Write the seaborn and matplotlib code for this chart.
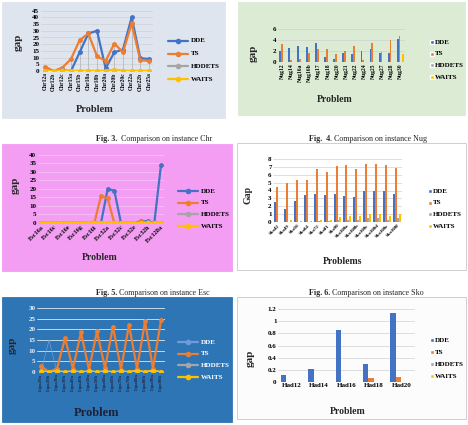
import matplotlib
matplotlib.use("Agg")
import matplotlib.pyplot as plt
import pandas as pd
import seaborn as sns
from matplotlib.lines import Line2D
from matplotlib.patches import Rectangle

sns.set_style("white")
plt.rcParams["font.family"] = ["Liberation Serif", "DejaVu Serif"]
plt.rcParams["font.weight"] = "bold"

W, H = 468, 425
ALGOS = ["DDE", "TS", "HDDETS", "WAITS"]
COLORS = {"DDE": "#4472c4", "TS": "#ed7d31", "HDDETS": "#a5a5a5", "WAITS": "#ffc000"}

# Fig. 3 - Chr
chr_labels = ["Chr12a", "Chr12b", "Chr12c", "Chr15a", "Chr15b", "Chr18a", "Chr18b",
              "Chr20a", "Chr20b", "Chr20c", "Chr22a", "Chr22b", "Chr25a"]
chr_dde = [0, 0, 0, 0, 14, 28, 30, 2, 14, 16, 40, 9.5, 9]
chr_ts = [3.2, 0, 2.5, 9, 23, 28, 11, 7.5, 20.5, 14, 35.5, 8, 7.5]
chr_hddets = [0, 0, 1, 0, 0, 0, 0, 0, 0.5, 0, 0, 0, 0]
chr_waits = [0, 0, 0, 0, 0, 0, 0, 0, 1, 0, 0, 0, 0]

# Fig. 4 - Nug
nug_labels = ["Nug12", "Nug14", "Nug16a", "Nug16b", "Nug17", "Nug18", "Nug20",
              "Nug21", "Nug22", "Nug24", "Nug25", "Nug27", "Nug28", "Nug30"]
nug_dde = [2.0, 2.6, 3.0, 2.8, 3.5, 1.0, 0.5, 1.6, 1.4, 2.0, 2.4, 1.6, 1.7, 4.1]
nug_ts = [3.2, 0.4, 0.6, 1.6, 2.4, 2.3, 1.5, 2.0, 3.0, 0.4, 3.5, 1.8, 4.0, 4.8]
nug_hddets = [0] * 14
nug_waits = [0] * 13 + [1.5]

# Fig. 5 - Esc
esc_labels = ["Esc16a", "Esc16b", "Esc16c", "Esc16d", "Esc16e", "Esc16f", "Esc16g",
              "Esc16h", "Esc16i", "Esc16j", "Esc32a", "Esc32b", "Esc32c", "Esc32d",
              "Esc32e", "Esc32g", "Esc32h", "Esc64a", "Esc128a"]
esc_dde = [0, 0, 0, 0, 0, 0, 0, 0, 0, 0, 20, 19, 0, 0, 0, 1, 1, 0, 34]
esc_ts = [0, 0, 0, 0, 0, 0, 0, 0, 0, 16, 14.5, 0, 0, 0, 0, 1, 0, 0, 0]
esc_hddets = [0] * 16 + [0.5, 0, 0]
esc_waits = [0] * 19

# Fig. 6 - Sko
sko_labels = ["Sko42", "Sko49", "Sko56", "Sko64", "Sko72", "Sko81", "Sko90",
              "Sko100a", "Sko100b", "Sko100c", "Sko100d", "Sko100e", "Sko100f"]
sko_dde = [2.6, 1.6, 2.7, 3.4, 3.6, 3.4, 3.6, 3.3, 3.2, 3.9, 3.9, 3.9, 3.6]
sko_ts = [4.4, 4.9, 5.3, 5.3, 6.7, 6.3, 7.1, 7.2, 6.7, 7.4, 7.4, 7.3, 6.9]
sko_hddets = [0, 0, 0, 0, 0.1, 0.1, 0.3, 0.3, 0.3, 0.5, 0.5, 0.3, 0.5]
sko_waits = [0, 0.2, 0.1, 0.1, 0.3, 0.2, 0.6, 0.8, 0.8, 1.0, 1.0, 0.8, 1.0]

# Lipa
lipa_labels = ["Lipa20a", "Lipa20b", "Lipa30a", "Lipa30b", "Lipa40a", "Lipa40b",
               "Lipa50a", "Lipa50b", "Lipa60a", "Lipa60b", "Lipa70a", "Lipa70b",
               "Lipa80a", "Lipa80b", "Lipa90a", "Lipa90b"]
lipa_dde = [0, 15, 0, 0, 0, 0, 0, 0, 0, 0, 0, 0, 0, 0, 0, 0]
lipa_ts = [2.7, 0, 1.6, 15.8, 1.6, 18.6, 1.1, 19, 1.9, 21.3, 1.1, 22.1, 1.6, 23.7, 1.6, 24.2]
lipa_hddets = [0] * 16
lipa_waits = [0.3, 0, 0.3, 0, 0.3, 0, 0.3, 0, 0.3, 0, 0.3, 0, 0.7, 0, 0.7, 0]

# Had
had_labels = ["Had12", "Had14", "Had16", "Had18", "Had20"]
had_dde = [0.12, 0.22, 0.86, 0.30, 1.13]
had_ts = [0, 0, 0, 0.07, 0.09]
had_hddets = [0] * 5
had_waits = [0] * 5


def long_df(labels, *series):
    rows = []
    for algo, vals in zip(ALGOS, series):
        for i, (lab, v) in enumerate(zip(labels, vals)):
            rows.append({"pos": i, "Problem": lab, "algo": algo, "gap": v})
    return pd.DataFrame(rows)


def px_rect(x0, y0, x1, y1):
    return [x0 / W, 1 - y1 / H, (x1 - x0) / W, (y1 - y0) / H]


def panel_bg(fig, x0, y0, x1, y1, color, edge="#c8c8c8"):
    fig.patches.append(Rectangle((x0 / W, 1 - y1 / H), (x1 - x0) / W, (y1 - y0) / H,
                                 transform=fig.transFigure, facecolor=color,
                                 edgecolor=edge, linewidth=0.6, zorder=-5))


def style_axes(ax, tick_color="black", grid_color="#d0d0d0"):
    ax.set_facecolor("none")
    ax.set_zorder(2)
    for s in ax.spines.values():
        s.set_visible(False)
    ax.yaxis.grid(True, color=grid_color, linewidth=0.5)
    ax.set_axisbelow(True)
    ax.tick_params(length=0, pad=1, colors=tick_color)


def add_legend(fig, x, y_first, step, kind, text_color="black", palette=None):
    palette = palette or COLORS
    for k, algo in enumerate(ALGOS):
        y = 1 - (y_first + k * step) / H
        if kind == "line":
            fig.lines.append(Line2D([x / W, (x + 10) / W, (x + 20) / W], [y, y, y],
                                    transform=fig.transFigure,
                                    color=palette[algo], linewidth=1.6, marker="o",
                                    markevery=[1], markersize=3, zorder=3))
            fig.text((x + 23) / W, y, algo, fontsize=5, fontweight="bold",
                     va="center", color=text_color)
        else:
            fig.patches.append(Rectangle((x / W, y - 2 / H), 4 / W, 4 / H,
                                         transform=fig.transFigure,
                                         facecolor=palette[algo], zorder=3))
            fig.text((x + 5) / W, y, algo, fontsize=5, fontweight="bold",
                     va="center", color=text_color)


def line_panel(fig, rect, labels, series, ymax, ystep, rot, palette=None,
               tick_color="black", xtick_color="black", grid_color="#d0d0d0",
               drop=False, fs=4):
    palette = palette or COLORS
    ax = fig.add_axes(rect)
    df = long_df(labels, *series)
    if drop:
        tops = df.groupby("pos")["gap"].max()
        ax.vlines(tops.index, 0, tops.values, color="#b0b0b0", linewidth=0.5, zorder=1)
    sns.lineplot(data=df, x="pos", y="gap", hue="algo", hue_order=ALGOS, palette=palette,
                 marker="o", markersize=3.5, markeredgewidth=0, linewidth=1.6,
                 legend=False, ax=ax, zorder=3)
    style_axes(ax, tick_color, grid_color)
    ax.set_xlim(-0.5, len(labels) - 0.5)
    ax.set_ylim(0, ymax)
    ax.set_yticks(range(0, ymax + 1, ystep))
    ax.set_xticks(range(len(labels)))
    if rot == 90:
        ax.set_xticklabels(labels, rotation=90, fontsize=fs, fontweight="bold", color=xtick_color)
    else:
        ax.set_xticks(range(0, len(labels), 2))
        ax.set_xticklabels(labels[::2], rotation=45, ha="right", rotation_mode="anchor",
                           fontsize=fs + 1, fontweight="bold", color=xtick_color)
    for t in ax.get_yticklabels():
        t.set_fontsize(5)
        t.set_fontweight("bold")
    ax.set_xlabel("")
    ax.set_ylabel("")
    return ax


def bar_panel(fig, rect, labels, series, ymax, yticks, rot, fs=4.5, ytick_fmt=None):
    ax = fig.add_axes(rect)
    df = long_df(labels, *series)
    sns.barplot(data=df, x="Problem", y="gap", hue="algo", hue_order=ALGOS,
                palette=COLORS, width=0.8, saturation=1, linewidth=0, edgecolor="none",
                legend=False, ax=ax, zorder=3)
    style_axes(ax)
    ax.set_ylim(0, ymax)
    ax.set_yticks(yticks)
    if ytick_fmt:
        ax.set_yticklabels([ytick_fmt(v) for v in yticks])
    if rot:
        ax.set_xticks(range(len(labels)))
        ax.set_xticklabels(labels, rotation=rot, fontsize=fs, fontweight="bold",
                           ha="right" if rot == 45 else "center",
                           rotation_mode="anchor" if rot == 45 else "default")
    else:
        for t in ax.get_xticklabels():
            t.set_fontsize(fs)
            t.set_fontweight("bold")
    for t in ax.get_yticklabels():
        t.set_fontsize(5)
        t.set_fontweight("bold")
    ax.set_xlabel("")
    ax.set_ylabel("")
    return ax


fig = plt.figure(figsize=(W / 100, H / 100), dpi=100)
fig.patch.set_facecolor("white")

# ---- Panel Chr (top left)
panel_bg(fig, 2, 2, 225, 118, "#dfe5ef", edge="#dfe5ef")
line_panel(fig, px_rect(40.7, 10.7, 153.3, 71), chr_labels,
           [chr_dde, chr_ts, chr_hddets, chr_waits], 45, 5, 90, drop=True)
fig.text(18 / W, 1 - 42 / H, "gap", rotation=90, fontsize=8, fontweight="bold",
         ha="center", va="center")
fig.text(95 / W, 1 - 109 / H, "Problem", fontsize=7.5, fontweight="bold", ha="center", va="center")
add_legend(fig, 168, 41, 12.7, "line")

# ---- Panel Nug (top right)
panel_bg(fig, 238, 2, 465, 115, "#dcebd4", edge="#dcebd4")
bar_panel(fig, px_rect(278, 29, 405, 62), nug_labels,
          [nug_dde, nug_ts, nug_hddets, nug_waits], 6, [0, 2, 4, 6], 90, fs=4)
fig.text(253 / W, 1 - 53 / H, "gap", rotation=90, fontsize=8, fontweight="bold",
         ha="center", va="center")
fig.text(335 / W, 1 - 100 / H, "Problem", fontsize=7, fontweight="bold", ha="center", va="center")
add_legend(fig, 430, 42, 11.7, "bar")

# captions row 1
fig.text(117 / W, 1 - 139 / H, "Fig. 3.", fontsize=5.8, fontweight="bold", ha="right", va="center")
fig.text(119 / W, 1 - 139 / H, " Comparison on instance Chr", fontsize=5.8,
         fontweight="normal", ha="left", va="center")
fig.text(330 / W, 1 - 139 / H, "Fig.  4", fontsize=5.8, fontweight="bold", ha="right", va="center")
fig.text(330 / W, 1 - 139 / H, ". Comparison on instance Nug", fontsize=5.8,
         fontweight="normal", ha="left", va="center")

# ---- Panel Esc (middle left)
panel_bg(fig, 2, 144, 232, 271, "#f39ef3", edge="#f39ef3")
line_panel(fig, px_rect(37.7, 155, 164.3, 223), esc_labels,
           [esc_dde, esc_ts, esc_hddets, esc_waits], 40, 5, 45,
           grid_color="#f7c8f7", fs=3.5)
fig.text(15 / W, 1 - 185 / H, "gap", rotation=90, fontsize=8, fontweight="bold",
         ha="center", va="center")
fig.text(100 / W, 1 - 257 / H, "Problem", fontsize=7, fontweight="bold", ha="center", va="center")
add_legend(fig, 178, 191, 11.7, "line")

# ---- Panel Sko (middle right)
panel_bg(fig, 237, 143, 466, 270, "white")
bar_panel(fig, px_rect(273, 159, 402, 222), sko_labels,
          [sko_dde, sko_ts, sko_hddets, sko_waits], 8, list(range(0, 9)), 45, fs=3.5)
fig.text(248 / W, 1 - 195 / H, "Gap", rotation=90, fontsize=7, fontweight="bold",
         ha="center", va="center")
fig.text(343 / W, 1 - 262 / H, "Problems", fontsize=7, fontweight="bold", ha="center", va="center")
add_legend(fig, 428, 191, 11.7, "bar")

# captions row 2
fig.text(117 / W, 1 - 293 / H, "Fig. 5.", fontsize=5.8, fontweight="bold", ha="right", va="center")
fig.text(117 / W, 1 - 293 / H, " Comparison on instance Esc", fontsize=5.8,
         fontweight="normal", ha="left", va="center")
fig.text(330 / W, 1 - 293 / H, "Fig. 6.", fontsize=5.8, fontweight="bold", ha="right", va="center")
fig.text(330 / W, 1 - 293 / H, " Comparison on instance Sko", fontsize=5.8,
         fontweight="normal", ha="left", va="center")

# ---- Panel Lipa (bottom left)
lipa_palette = dict(COLORS, DDE="#6f9cd8")
panel_bg(fig, 2, 297, 232, 422, "#2e75b6", edge="#2e75b6")
ax = line_panel(fig, px_rect(37, 308, 165, 372), lipa_labels,
                [lipa_dde, lipa_ts, lipa_hddets, lipa_waits], 30, 5, 90,
                palette=lipa_palette, tick_color="#f0f0f0", xtick_color="#1f2a44",
                grid_color="#ffffff", fs=3.5)
ax.lines[0].set_linewidth(0.5)
ax.lines[0].set_markersize(0)
fig.text(12 / W, 1 - 345 / H, "gap", rotation=90, fontsize=8, fontweight="bold",
         ha="center", va="center")
fig.text(97 / W, 1 - 413 / H, "Problem", fontsize=9, fontweight="bold", ha="center",
         va="center", color="#1b2238")
add_legend(fig, 178, 342, 11.7, "line", text_color="white", palette=lipa_palette)

# ---- Panel Had (bottom right)
panel_bg(fig, 237, 297, 466, 419, "#fcfcfc")
bar_panel(fig, px_rect(278, 309, 415, 382), had_labels,
          [had_dde, had_ts, had_hddets, had_waits], 1.2,
          [0, 0.2, 0.4, 0.6, 0.8, 1.0, 1.2], 0, fs=5,
          ytick_fmt=lambda v: "0" if v == 0 else ("1" if v == 1 else f"{v:g}"))
fig.text(250 / W, 1 - 358 / H, "gap", rotation=90, fontsize=8, fontweight="bold",
         ha="center", va="center")
fig.text(348 / W, 1 - 412 / H, "Problem", fontsize=7, fontweight="bold", ha="center", va="center")
add_legend(fig, 430, 340, 12, "bar")

fig.savefig("out.png", dpi=100)
plt.close(fig)
